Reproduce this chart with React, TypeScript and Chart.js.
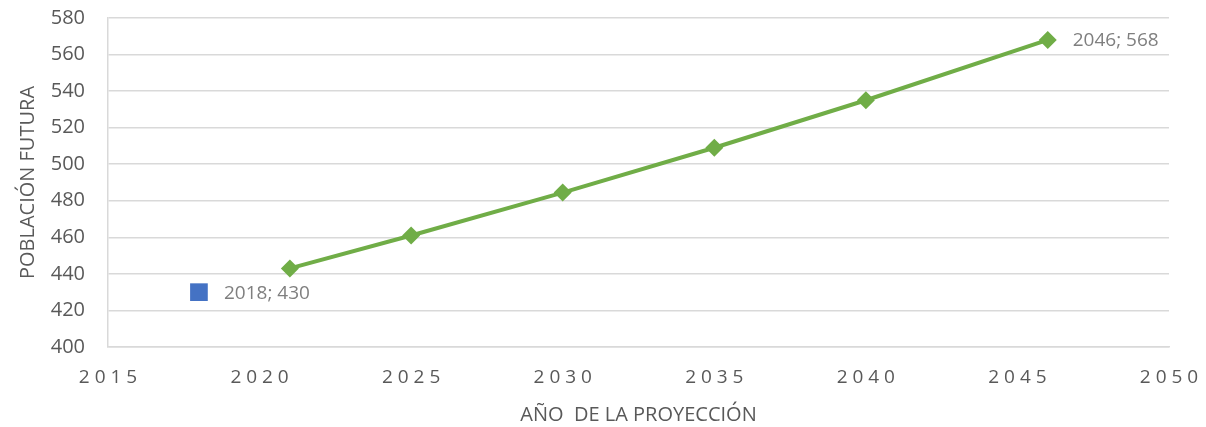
import React, { useEffect, useRef } from "react";
import { Chart, registerables } from "chart.js";

Chart.register(...registerables);

const baseYears = [2018];
const baseValues = [430];
const projYears = [2021, 2025, 2030, 2035, 2040, 2046];
const projValues = [443, 461, 484.5, 509, 535, 568];
const yTicks = [400, 420, 440, 460, 480, 500, 520, 540, 560, 580];
const xTicks = [2015, 2020, 2025, 2030, 2035, 2040, 2045, 2050];
const xTitle = "AÑO  DE LA PROYECCIÓN";
const yTitle = "POBLACIÓN FUTURA";
const labelledPoints = [
  { dataset: 0, index: 0 },
  { dataset: 1, index: 5 },
];

const FONT = "'Open Sans', 'DejaVu Sans', sans-serif";
const GRID = "#d9d9d9";
const TEXT = "#595959";

const labelPlugin = {
  id: "pointLabels",
  afterDatasetsDraw(chart: any) {
    const ctx = chart.ctx;
    ctx.save();
    ctx.font = `19px ${FONT}`;
    ctx.fillStyle = "#7f7f7f";
    ctx.textAlign = "left";
    ctx.textBaseline = "middle";
    labelledPoints.forEach(({ dataset, index }) => {
      const meta = chart.getDatasetMeta(dataset);
      const el = meta.data[index];
      const raw = chart.data.datasets[dataset].data[index];
      ctx.fillText(`${raw.x}; ${raw.y}`, el.x + 25, el.y + 1);
    });
    ctx.restore();
  },
};

export default function App() {
  const ref = useRef<HTMLCanvasElement>(null);
  useEffect(() => {
    if (!ref.current) return;
    const chart = new Chart(ref.current, {
      type: "scatter",
      data: {
        datasets: [
          {
            data: baseYears.map((x, i) => ({ x, y: baseValues[i] })),
            backgroundColor: "#4472C4",
            borderColor: "#4472C4",
            pointStyle: "rect",
            pointRadius: 12.5,
            borderWidth: 0,
            showLine: false,
          },
          {
            data: projYears.map((x, i) => ({ x, y: projValues[i] })),
            backgroundColor: "#70AD47",
            borderColor: "#70AD47",
            pointBackgroundColor: "#70AD47",
            pointBorderColor: "#70AD47",
            pointStyle: "rectRot",
            pointRadius: 9,
            pointBorderWidth: 0,
            borderWidth: 4,
            showLine: true,
            tension: 0,
          },
        ],
      },
      plugins: [labelPlugin],
      options: {
        animation: false,
        responsive: false,
        layout: { padding: { left: 0, right: 37, top: 18, bottom: 0 } },
        plugins: {
          legend: { display: false },
          tooltip: { enabled: false },
        },
        scales: {
          x: {
            type: "linear",
            min: 2015,
            max: 2050,
            afterBuildTicks: (s: any) => {
              s.ticks = xTicks.map((v) => ({ value: v }));
            },
            afterFit: (s: any) => {
              s.height = 80;
              s.paddingLeft = 0;
              s.paddingRight = 0;
            },
            grid: { display: false, drawTicks: false },
            border: { display: true, color: GRID, width: 1.5 },
            ticks: {
              color: TEXT,
              font: { family: FONT, size: 19 },
              padding: 19,
              maxRotation: 0,
              autoSkip: false,
              callback: (v: any) => String(v).split("").join(" "),
            },
            title: {
              display: true,
              text: xTitle,
              color: TEXT,
              font: { family: FONT, size: 20 },
              padding: { top: 0, bottom: 0 },
            },
          },
          y: {
            type: "linear",
            min: 400,
            max: 580,
            afterBuildTicks: (s: any) => {
              s.ticks = yTicks.map((v) => ({ value: v }));
            },
            afterFit: (s: any) => {
              s.width = 108;
              s.paddingTop = 0;
              s.paddingBottom = 0;
            },
            grid: { color: GRID, lineWidth: 1.5, drawTicks: false },
            border: { display: true, color: GRID, width: 1.5 },
            ticks: {
              color: TEXT,
              font: { family: FONT, size: 20 },
              padding: 23,
              autoSkip: false,
            },
            title: {
              display: true,
              text: yTitle,
              color: TEXT,
              font: { family: FONT, size: 20 },
              padding: { top: 16, bottom: 0 },
            },
          },
        },
      },
    } as any);
    return () => chart.destroy();
  }, []);
  return (
    <div style={{ position: "absolute", left: 0, top: 0, width: 1206, height: 427, background: "#fff" }}>
      <canvas ref={ref} width={1206} height={427} style={{ width: 1206, height: 427 }} />
    </div>
  );
}
